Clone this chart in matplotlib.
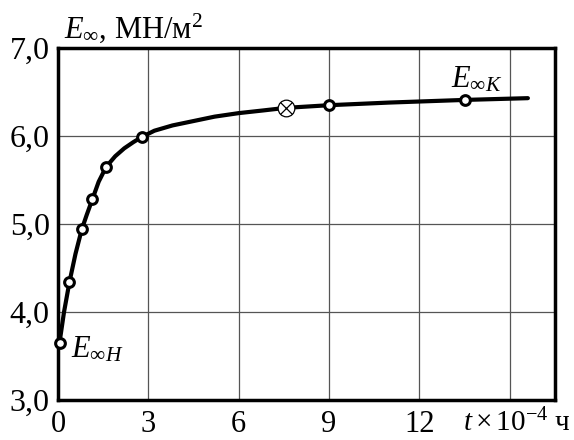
import matplotlib
matplotlib.use('Agg')
import matplotlib.pyplot as plt

# Точки кривой (t x 10^-4 ч, E МН/м2)
t_curve = [0.05, 0.2, 0.38, 0.58, 0.79, 0.95, 1.14, 1.35, 1.6, 1.9, 2.2, 2.5, 2.79,
           3.2, 3.8, 4.5, 5.2, 6.0, 6.8, 7.57, 9.0, 11.0, 13.5, 15.6]
e_curve = [3.65, 4.0, 4.34, 4.66, 4.94, 5.1, 5.28, 5.48, 5.65, 5.77, 5.86, 5.93, 5.99,
           6.06, 6.12, 6.17, 6.22, 6.26, 6.29, 6.32, 6.35, 6.38, 6.41, 6.43]

# Экспериментальные точки
t_pts = [0.05, 0.38, 0.79, 1.14, 1.6, 2.79, 9.0, 13.5]
e_pts = [3.65, 4.34, 4.94, 5.28, 5.65, 5.99, 6.35, 6.41]
t_cross = [7.57]
e_cross = [6.32]

x_ticks = [0, 3, 6, 9, 12]
x_grid = [3, 6, 9, 12, 15]
y_ticks = [3.0, 4.0, 5.0, 6.0, 7.0]
y_labels = ['3,0', '4,0', '5,0', '6,0', '7,0']

plt.rcParams['font.family'] = 'Liberation Serif'
plt.rcParams['mathtext.fontset'] = 'custom'
plt.rcParams['mathtext.rm'] = 'Liberation Serif'
plt.rcParams['mathtext.it'] = 'Liberation Serif:italic'

fig = plt.figure(figsize=(5.74, 4.4), dpi=100)
ax = fig.add_axes([58 / 574, 40 / 440, 497 / 574, 352 / 440])

for x in x_grid:
    ax.axvline(x, color='#555555', lw=0.9, zorder=1)
for y in [4.0, 5.0, 6.0]:
    ax.axhline(y, color='#555555', lw=0.9, zorder=1)

ax.plot(t_curve, e_curve, color='black', lw=3, zorder=2,
        solid_capstyle='round', solid_joinstyle='round')
ax.plot(t_pts, e_pts, 'o', ms=7, mfc='white', mec='black', mew=2.2, zorder=3, clip_on=False)
ax.plot(t_cross, e_cross, 'o', ms=12, mfc='white', mec='black', mew=0.9, zorder=3)
ax.plot(t_cross, e_cross, 'x', ms=8, color='black', mew=0.9, zorder=4)

ax.set_xlim(0, 16.5)
ax.set_ylim(3.0, 7.0)
ax.set_xticks(x_ticks)
ax.set_xticklabels([str(v) for v in x_ticks])
ax.set_yticks(y_ticks)
ax.set_yticklabels(y_labels)
ax.tick_params(axis='x', length=0, labelsize=22, pad=7)
ax.tick_params(axis='y', length=0, labelsize=23, pad=6)
for s in ax.spines.values():
    s.set_linewidth(2.5)

ax.text(0.42, 3.57, r'$E_{\infty H}$', fontsize=22, va='center', ha='left')
ax.text(13.05, 6.64, r'$E_{\infty K}$', fontsize=22, va='center', ha='left')

fig.text(64 / 574, 1 - 28 / 440, r'$E_{\infty}$, МН/м$^2$', fontsize=22, va='center', ha='left')
fig.text(571 / 574, 1 - 423 / 440, r'$t\times10^{-4}$ ч', fontsize=21, va='center', ha='right')

fig.savefig('out.png', dpi=100)
